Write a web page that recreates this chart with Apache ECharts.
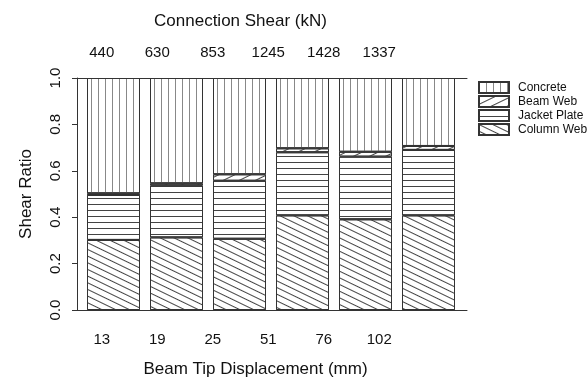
<!DOCTYPE html>
<html>
<head>
<meta charset="utf-8">
<script src="https://cdn.jsdelivr.net/npm/echarts@6/dist/echarts.min.js"></script>
<style>
  html, body { margin: 0; padding: 0; background: #fff; }
  #chart { width: 588px; height: 383px; }
</style>
</head>
<body>
<div id="chart"></div>
<script>
const displacement = ['13', '19', '25', '51', '76', '102']
const shear = ['440', '630', '853', '1245', '1428', '1337']

// shear ratio of each component (stacked, bottom to top)
const columnWeb = [0.302, 0.313, 0.307, 0.408, 0.391, 0.408]
const jacketPlate = [0.194, 0.224, 0.250, 0.272, 0.270, 0.282]
const beamWeb = [0.007, 0.009, 0.028, 0.017, 0.021, 0.017]
const concrete = [0.497, 0.454, 0.415, 0.303, 0.318, 0.293]

const yTicks = [0, 0.2, 0.4, 0.6, 0.8, 1.0]

const font = 'Liberation Sans, Arial, sans-serif'

const vLines = {symbol: 'rect', symbolSize: 1, dashArrayX: [1, 6], dashArrayY: [10, 0], color: '#888'}
const hLines = {symbol: 'rect', symbolSize: 1, dashArrayX: [10, 0], dashArrayY: [1, 5], color: '#444'}
const backDiag = {symbol: 'rect', symbolSize: 1, dashArrayX: [10, 0], dashArrayY: [1, 5], rotation: 0.45, color: '#444'}
const fwdDiag = {symbol: 'rect', symbolSize: 1, dashArrayX: [10, 0], dashArrayY: [1, 6], rotation: -0.45, color: '#444'}

function barSeries(name, data, decal){
    return {
        name: name,
        type: 'bar',
        stack: 'ratio',
        xAxisIndex: 2,
        yAxisIndex: 1,
        barWidth: 53,
        data: data,
        itemStyle: {
            color: '#fff',
            borderColor: '#333',
            borderWidth: 1,
            decal: decal
        }
    }
}

const chart = echarts.init(document.getElementById('chart'), null, {renderer: 'canvas'})

chart.setOption({
    animation: false,
    textStyle: {fontFamily: font, color: '#111'},
    grid: [
        {left: 77, top: 78, width: 390, height: 232},
        {left: 82, top: 78, width: 378, height: 232},
        {left: 74, top: 78, width: 333, height: 232}
    ],
    legend: {
        orient: 'vertical',
        left: 473,
        top: 76,
        itemWidth: 30,
        itemHeight: 11,
        itemGap: 1,
        icon: 'rect',
        data: ['Concrete', 'Beam Web', 'Jacket Plate', 'Column Web'],
        textStyle: {fontSize: 12, color: '#111', fontFamily: font, padding: [0, 0, 0, 4]}
    },
    xAxis: [
        {type: 'value', gridIndex: 0, position: 'bottom', min: 0, max: 1,
            axisLine: {show: true, lineStyle: {color: '#333'}}, axisTick: {show: false},
            axisLabel: {show: false}, splitLine: {show: false}},
        {type: 'value', gridIndex: 0, position: 'top', min: 0, max: 1,
            axisLine: {show: true, lineStyle: {color: '#333'}}, axisTick: {show: false},
            axisLabel: {show: false}, splitLine: {show: false}},
        {type: 'category', gridIndex: 1, data: displacement, show: false},
        {type: 'category', gridIndex: 2, position: 'bottom', data: displacement,
            axisLine: {show: false}, axisTick: {show: false},
            axisLabel: {margin: 28, fontSize: 15, color: '#111'},
            name: 'Beam Tip Displacement (mm)', nameLocation: 'middle', nameGap: 57,
            nameTextStyle: {fontSize: 17, color: '#111', padding: [0, 0, 0, 30]}},
        {type: 'category', gridIndex: 2, position: 'top', data: shear,
            axisLine: {show: false}, axisTick: {show: false},
            axisLabel: {margin: 18, fontSize: 15, color: '#111'},
            name: 'Connection Shear (kN)', nameLocation: 'middle', nameGap: 48,
            nameTextStyle: {fontSize: 17, color: '#111'}}
    ],
    yAxis: [
        {type: 'value', gridIndex: 0, min: 0, max: 1, interval: 0.2,
            axisLine: {show: true, lineStyle: {color: '#333'}},
            axisTick: {show: true, length: 5, lineStyle: {color: '#333'}},
            axisLabel: {rotate: 90, margin: 14, fontSize: 15, color: '#111',
                formatter: v => yTicks.includes(v) ? v.toFixed(1) : ''},
            splitLine: {show: false},
            name: 'Shear Ratio', nameLocation: 'middle', nameGap: 42,
            nameTextStyle: {fontSize: 17, color: '#111'}},
        {type: 'value', gridIndex: 1, min: 0, max: 1, show: false, splitLine: {show: false}},
        {type: 'value', gridIndex: 2, min: 0, max: 1, show: false, splitLine: {show: false}}
    ],
    series: [
        barSeries('Column Web', columnWeb, backDiag),
        barSeries('Jacket Plate', jacketPlate, hLines),
        barSeries('Beam Web', beamWeb, fwdDiag),
        barSeries('Concrete', concrete, vLines)
    ]
})
</script>
</body>
</html>
